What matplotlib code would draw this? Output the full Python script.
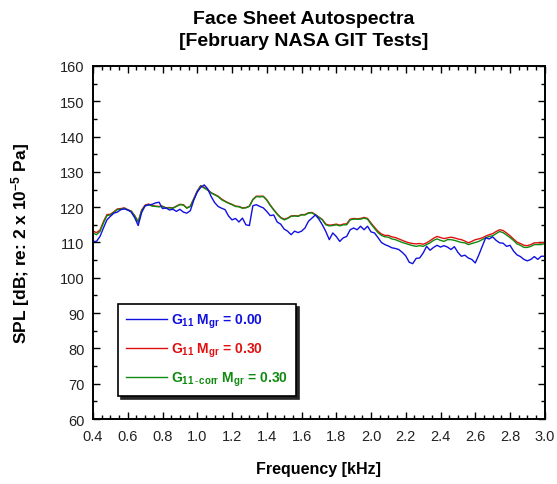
import numpy as np
import matplotlib
matplotlib.use("Agg")
import matplotlib.pyplot as plt
from matplotlib.ticker import MultipleLocator, FormatStrFormatter

plt.rcParams['font.family'] = ['Liberation Sans', 'DejaVu Sans']
plt.rcParams['mathtext.fontset'] = 'custom'
plt.rcParams['mathtext.rm'] = 'Liberation Sans'
plt.rcParams['mathtext.it'] = 'Liberation Sans'
plt.rcParams['mathtext.bf'] = 'Liberation Sans:bold'

# frecuencia en kHz, paso de 0.02
freq = np.round(np.arange(0.40, 3.001, 0.02), 2)

# G11 Mgr = 0.00
spl_azul = [110.3, 110.3, 111.7, 114.1, 116.4, 117.4, 118.3, 118.6, 119.3, 119.5,
            119.2, 118.6, 117.0, 114.8, 118.5, 120.4, 120.6, 120.8, 121.2, 121.4,
            119.6, 119.8, 119.2, 119.4, 118.8, 119.4, 118.6, 118.3, 119.0, 122.0,
            124.3, 125.6, 126.3, 125.2, 123.0, 121.3, 120.2, 119.7, 119.3, 117.5,
            116.4, 116.8, 115.8, 116.9, 115.0, 114.8, 120.4, 120.7, 120.2, 119.8,
            118.8, 117.6, 117.8, 115.8, 115.2, 113.8, 113.2, 112.2, 113.2, 112.8,
            113.2, 114.1, 116.0, 116.9, 117.8, 116.6, 115.0, 113.1, 110.8, 112.7,
            111.7, 110.3, 111.3, 111.7, 113.6, 114.1, 113.6, 114.6, 113.6, 114.6,
            113.0, 112.7, 111.4, 110.0, 109.4, 109.0, 108.5, 108.3, 108.0, 107.2,
            106.2, 104.4, 104.0, 105.5, 105.6, 107.0, 108.9, 107.8, 108.6, 109.2,
            108.7, 109.1, 108.7, 108.0, 108.8, 107.2, 106.1, 106.4, 105.6, 105.2,
            104.2, 106.4, 108.9, 111.3, 111.0, 111.6, 110.6, 109.9, 109.8, 108.9,
            109.2, 107.6, 106.5, 106.0, 105.2, 104.8, 105.2, 106.0, 105.2, 106.1,
            106.1]

# G11 Mgr = 0.30
spl_rojo = [113.2, 112.8, 113.5, 115.9, 117.9, 118.0, 118.7, 119.5, 119.6, 119.8,
            119.3, 118.9, 117.6, 115.9, 119.2, 120.6, 120.9, 120.5, 120.3, 120.2,
            120.3, 119.8, 119.9, 119.8, 120.3, 120.8, 120.7, 119.8, 120.3, 122.4,
            124.6, 126.1, 125.6, 125.0, 124.1, 123.6, 123.1, 122.3, 121.7, 121.2,
            120.8, 120.3, 120.2, 119.8, 119.9, 120.3, 122.2, 123.1, 123.1, 123.1,
            122.1, 120.6, 119.3, 118.1, 117.1, 116.6, 116.9, 117.5, 117.6, 117.5,
            117.9, 117.9, 118.4, 118.5, 117.9, 117.2, 116.5, 115.2, 114.9, 115.0,
            115.2, 114.9, 115.2, 115.3, 116.6, 116.8, 116.7, 116.8, 117.1, 116.8,
            115.5, 114.3, 113.2, 112.4, 112.0, 112.0, 111.6, 111.4, 111.0, 110.6,
            110.2, 109.9, 109.7, 109.6, 109.7, 109.5, 109.9, 110.5, 111.2, 111.7,
            111.4, 111.1, 111.3, 111.5, 111.3, 111.0, 110.8, 110.4, 109.9, 110.3,
            110.8, 111.0, 111.3, 111.8, 112.2, 112.5, 113.1, 113.6, 113.4, 112.7,
            111.9, 111.0, 110.1, 109.7, 109.2, 109.1, 109.4, 109.9, 109.9, 109.9,
            110.0]

# G11-corr Mgr = 0.30
spl_verde = [112.7, 112.2, 113.1, 115.5, 117.6, 117.8, 118.5, 119.3, 119.4, 119.7,
             119.2, 118.8, 117.5, 115.8, 119.0, 120.4, 120.7, 120.3, 120.2, 120.1,
             120.2, 119.7, 119.8, 119.7, 120.2, 120.7, 120.6, 119.7, 120.2, 122.3,
             124.4, 126.0, 125.4, 124.8, 124.0, 123.5, 123.0, 122.1, 121.6, 121.1,
             120.7, 120.2, 120.1, 119.7, 119.8, 120.2, 122.1, 123.0, 122.9, 123.0,
             122.0, 120.5, 119.2, 118.0, 117.0, 116.4, 116.8, 117.4, 117.5, 117.4,
             117.8, 117.8, 118.3, 118.4, 117.8, 117.1, 116.4, 115.0, 114.7, 114.8,
             115.0, 114.7, 115.0, 115.0, 116.4, 116.6, 116.6, 116.6, 116.9, 116.6,
             115.2, 114.0, 112.8, 112.0, 111.6, 111.5, 111.0, 110.8, 110.4, 110.0,
             109.7, 109.4, 109.1, 108.9, 109.1, 108.9, 109.4, 109.9, 110.6, 111.0,
             110.6, 110.3, 110.8, 110.8, 110.6, 110.3, 110.0, 109.9, 109.4, 109.7,
             110.0, 110.3, 110.8, 111.3, 111.7, 111.9, 112.5, 113.1, 112.8, 112.1,
             111.4, 110.6, 109.6, 109.2, 108.6, 108.6, 108.9, 109.4, 109.4, 109.4,
             109.7]

etiquetas = [r'$\mathbf{G_{11}\ M_{gr}}$ = 0.00',
             r'$\mathbf{G_{11}\ M_{gr}}$ = 0.30',
             r'$\mathbf{G_{11\,\text{-}\,corr}\ M_{gr}}$ = 0.30']
colores = ['#1010e0', '#e01010', '#108a10']

fig = plt.figure(figsize=(5.57, 4.85), dpi=100)
ax = fig.add_axes([0.167, 0.134, 0.811, 0.728])

l_rojo, = ax.plot(freq, spl_rojo, color=colores[1], lw=1.0)
l_verde, = ax.plot(freq, spl_verde, color=colores[2], lw=1.0)
l_azul, = ax.plot(freq, spl_azul, color=colores[0], lw=1.0)

ax.set(xlim=(0.4, 3.0), ylim=(60, 160))
ax.xaxis.set_major_locator(MultipleLocator(0.2))
ax.xaxis.set_minor_locator(MultipleLocator(0.05))
ax.xaxis.set_major_formatter(FormatStrFormatter('%.1f'))
ax.yaxis.set_major_locator(MultipleLocator(10))
ax.yaxis.set_minor_locator(MultipleLocator(5))
ax.tick_params(which='both', direction='in', top=True, right=True,
               labelsize=10.5, labelcolor='#222222')
ax.tick_params(axis='x', pad=7)
ax.tick_params(axis='y', pad=6)
ax.tick_params(which='major', length=5, width=1)
ax.tick_params(which='minor', length=3, width=1)
for s in ax.spines.values():
    s.set_linewidth(1.4)

ax.set_xlabel('Frequency [kHz]', fontsize=11.5, fontweight='bold', labelpad=13)
ax.set_ylabel(r'SPL [dB; re: 2 x 10$^{\mathbf{-5}}$ Pa]', fontsize=12.5,
              fontweight='bold', labelpad=20)
fig.text(0.546, 0.978, 'Face Sheet Autospectra\n[February NASA GIT Tests]',
         ha='center', va='top', fontsize=14, fontweight='bold', linespacing=1.4)

leg = ax.legend([l_azul, l_rojo, l_verde], etiquetas, loc='lower left',
                bbox_to_anchor=(0.04, 0.045), fancybox=False,
                shadow={'color': '0.15', 'alpha': 1.0},
                edgecolor='black', framealpha=1, handlelength=2.9,
                labelspacing=0.75, borderpad=0.6, handletextpad=0.3,
                prop={'weight': 'bold', 'size': 10})
leg.get_frame().set_linewidth(1.2)
for t, c in zip(leg.get_texts(), colores):
    t.set_color(c)

fig.savefig('out.png', dpi=100)
